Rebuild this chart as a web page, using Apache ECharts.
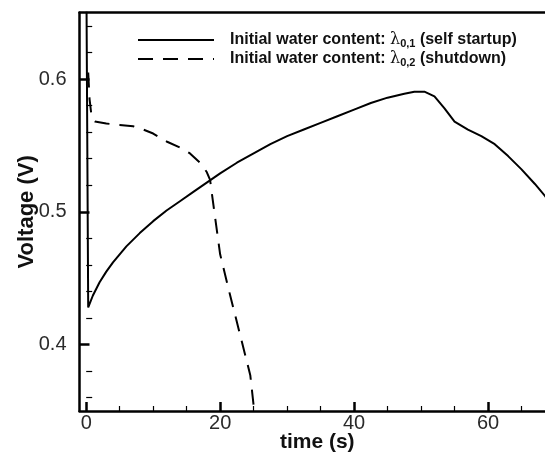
<!DOCTYPE html>
<html>
<head>
<meta charset="utf-8">
<script src="https://cdn.jsdelivr.net/npm/echarts@6/dist/echarts.min.js"></script>
<style>html,body{margin:0;padding:0;background:#fff}#c{width:545px;height:456px}</style>
</head>
<body>
<div id="c"></div>
<script>
// time (s), voltage (V)
const startupTime = [0, 0.3, 1, 2, 3, 4, 6, 8, 10, 12, 14, 16, 18, 20, 22.5, 25, 27.5, 30, 32.5, 35, 37.5, 40, 42.5, 45, 47.5, 49, 50.5, 52, 53.5, 55, 57, 59, 61, 63, 65, 67, 68.5, 70];
const startupVolt = [0.70, 0.428, 0.437, 0.447, 0.455, 0.462, 0.474, 0.484, 0.493, 0.501, 0.508, 0.515, 0.522, 0.529, 0.537, 0.544, 0.551, 0.557, 0.562, 0.567, 0.572, 0.577, 0.582, 0.586, 0.589, 0.5905, 0.5905, 0.587, 0.578, 0.568, 0.562, 0.557, 0.551, 0.542, 0.532, 0.521, 0.512, 0.502];
const shutdownTime = [0.3, 0.5, 0.8, 1.3, 3, 5, 7, 8.5, 10, 12, 14, 15.5, 17, 18, 18.5, 19, 20, 21.5, 23, 24.5, 25.2];
const shutdownVolt = [0.605, 0.585, 0.572, 0.568, 0.5665, 0.5655, 0.5645, 0.562, 0.559, 0.553, 0.5485, 0.544, 0.537, 0.530, 0.524, 0.505, 0.468, 0.437, 0.407, 0.377, 0.345];
const xMajorTicks = [0, 20, 40, 60];
const xMinorTicks = [5, 10, 15, 25, 30, 35, 45, 50, 55, 65];
const yMajorTicks = [0.4, 0.5, 0.6];
const yMinorTicks = [0.36, 0.38, 0.42, 0.44, 0.46, 0.48, 0.52, 0.54, 0.56, 0.58, 0.62, 0.64];
const seriesNames = ['startup', 'shutdown'];

const zip = (a, b) => a.map((v, i) => [v, b[i]]);
const chart = echarts.init(document.getElementById('c'), null, {renderer: 'canvas'});
const X_MIN = -1, X_MAX = 70, Y_MIN = 0.35, Y_MAX = 0.65;
const lblFont = {fontFamily: 'Liberation Sans, Arial, sans-serif', fontSize: 20, color: '#2a2a2a'};
const rich = {
  t: {fontFamily: 'Liberation Sans, Arial', fontWeight: 'bold', fontSize: 16, color: '#111', lineHeight: 19},
  l: {fontFamily: 'DejaVu Serif, serif', fontSize: 16, color: '#111', lineHeight: 19},
  s: {fontFamily: 'Liberation Sans, Arial', fontWeight: 'bold', fontSize: 11, color: '#111', padding: [7, 0, 0, 0], lineHeight: 12}
};
chart.setOption({
  animation: false,
  grid: {left: 79.5, top: 12.7, right: -10, bottom: 45, containLabel: false, outerBoundsMode: 'none'},
  legend: {
    orient: 'vertical', left: 137, top: 31, padding: 0, itemWidth: 76, itemHeight: 19, itemGap: 1,
    data: seriesNames,
    itemStyle: {opacity: 0},
    textStyle: {rich: rich, padding: [0, 0, 0, 11]},
    formatter: function (n) {
      return n === 'startup'
        ? '{t|Initial water content: }{l|λ}{s|0,1}{t| (self startup)}'
        : '{t|Initial water content: }{l|λ}{s|0,2}{t| (shutdown)}';
    }
  },
  xAxis: [{
    type: 'value', min: X_MIN, max: X_MAX, position: 'bottom',
    name: 'time (s)', nameLocation: 'middle', nameGap: 21, nameMoveOverlap: false,
    nameTextStyle: {fontFamily: 'Liberation Sans, Arial', fontWeight: 'bold', fontSize: 21, color: '#111', align: 'center'},
    axisLine: {show: true, onZero: false, lineStyle: {color: '#000', width: 2.5}},
    axisTick: {show: true, inside: true, length: 9, customValues: xMajorTicks, lineStyle: {color: '#000', width: 2.5}},
    axisLabel: {customValues: xMajorTicks, margin: 2, ...lblFont},
    splitLine: {show: false}
  }, {
    type: 'value', min: X_MIN, max: X_MAX, position: 'bottom',
    axisLine: {show: false},
    axisTick: {show: true, inside: true, length: 5, customValues: xMinorTicks, lineStyle: {color: '#000', width: 1.2}},
    axisLabel: {show: false}, splitLine: {show: false}
  }, {
    type: 'value', min: X_MIN, max: X_MAX, position: 'top',
    axisLine: {show: true, onZero: false, lineStyle: {color: '#000', width: 2.5}},
    axisTick: {show: false}, axisLabel: {show: false}, splitLine: {show: false}
  }],
  yAxis: [{
    type: 'value', min: Y_MIN, max: Y_MAX, position: 'left',
    name: 'Voltage (V)', nameLocation: 'middle', nameGap: 42, nameRotate: 90, nameMoveOverlap: false,
    nameTextStyle: {fontFamily: 'Liberation Sans, Arial', fontWeight: 'bold', fontSize: 22, color: '#111'},
    axisLine: {show: true, onZero: false, lineStyle: {color: '#000', width: 2.5}},
    axisTick: {show: true, inside: true, length: 10, customValues: yMajorTicks, lineStyle: {color: '#000', width: 2.5}},
    axisLabel: {customValues: yMajorTicks, margin: 13, formatter: v => v.toFixed(1), ...lblFont},
    splitLine: {show: false}
  }, {
    type: 'value', min: Y_MIN, max: Y_MAX, position: 'left',
    axisLine: {show: false},
    axisTick: {show: true, inside: true, length: 6, customValues: yMinorTicks, lineStyle: {color: '#000', width: 1.2}},
    axisLabel: {show: false}, splitLine: {show: false}
  }],
  series: [{
    name: 'startup', type: 'line', data: zip(startupTime, startupVolt), symbol: 'none', clip: true,
    lineStyle: {color: '#000', width: 2}, itemStyle: {color: '#000'}
  }, {
    name: 'shutdown', type: 'line', data: zip(shutdownTime, shutdownVolt), symbol: 'none', clip: true,
    lineStyle: {color: '#000', width: 2, type: [15, 10]}, itemStyle: {color: '#000'}
  }]
});
</script>
</body>
</html>
